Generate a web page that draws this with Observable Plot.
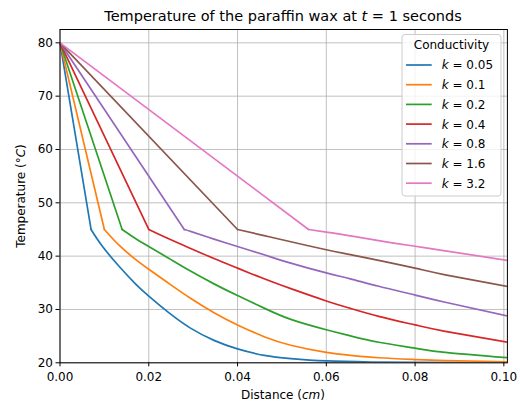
<!DOCTYPE html>
<html>
<head>
<meta charset="utf-8">
<script src="https://cdn.jsdelivr.net/npm/d3@7"></script>
<script src="https://cdn.jsdelivr.net/npm/@observablehq/plot@0.6"></script>
<style>
  html, body { margin: 0; padding: 0; background: white; }
  #chart { width: 520px; height: 405px; }
</style>
</head>
<body>
<div id="chart"></div>
<script>
// ---- data ----
const kLabels = ["0.05", "0.1", "0.2", "0.4", "0.8", "1.6", "3.2"];
const colors = ["#1f77b4", "#ff7f0e", "#2ca02c", "#d62728", "#9467bd", "#8c564b", "#e377c2"];
const xTicks = [0, 0.02, 0.04, 0.06, 0.08, 0.10];
const yTicks = [20, 30, 40, 50, 60, 70, 80];

const dist_k005 = [0, 0.007, 0.0095, 0.0133, 0.017, 0.02, 0.0245, 0.0294, 0.0347, 0.04, 0.046, 0.052, 0.06, 0.07, 0.08, 0.09, 0.1008];
const temp_k005 = [80, 45, 41.9, 38.1, 34.8, 32.5, 29.4, 26.5, 24.2, 22.6, 21.4, 20.8, 20.35, 20.15, 20.07, 20.03, 20.01];

const dist_k01 = [0, 0.01, 0.0133, 0.017, 0.02, 0.0245, 0.0294, 0.0347, 0.04, 0.046, 0.052, 0.06, 0.0654, 0.0718, 0.08, 0.0868, 0.1008];
const temp_k01 = [80, 45, 42.05, 39.4, 37.55, 34.9, 32.1, 29.4, 27.1, 24.9, 23.3, 21.95, 21.4, 20.95, 20.6, 20.4, 20.2];

const dist_k02 = [0, 0.014, 0.017, 0.02, 0.0245, 0.0294, 0.0347, 0.04, 0.046, 0.052, 0.06, 0.0654, 0.0718, 0.08, 0.0868, 0.1008];
const temp_k02 = [80, 45, 43.3, 41.8, 39.6, 37.2, 34.8, 32.6, 30.25, 28.15, 26.2, 25.05, 23.85, 22.75, 21.95, 20.95];

const dist_k04 = [0, 0.02, 0.0245, 0.0294, 0.0347, 0.04, 0.046, 0.052, 0.06, 0.0654, 0.0718, 0.08, 0.0868, 0.1008];
const temp_k04 = [80, 45, 43.25, 41.45, 39.55, 37.75, 35.75, 33.9, 31.6, 30.2, 28.7, 27.1, 25.9, 23.85];

const dist_k08 = [0, 0.028, 0.0294, 0.0347, 0.04, 0.046, 0.052, 0.06, 0.0654, 0.0718, 0.08, 0.0868, 0.1008];
const temp_k08 = [80, 45, 44.65, 43.2, 41.8, 40.25, 38.7, 36.85, 35.75, 34.35, 32.7, 31.35, 28.8];

const dist_k16 = [0, 0.04, 0.046, 0.052, 0.06, 0.0654, 0.0718, 0.08, 0.0868, 0.1008];
const temp_k16 = [80, 45, 43.85, 42.7, 41.2, 40.3, 39.2, 37.75, 36.5, 34.3];

const dist_k32 = [0, 0.056, 0.06, 0.0654, 0.0718, 0.08, 0.0868, 0.1008];
const temp_k32 = [80, 45, 44.5, 43.8, 42.9, 41.85, 41.0, 39.2];

const distances = [dist_k005, dist_k01, dist_k02, dist_k04, dist_k08, dist_k16, dist_k32];
const temps = [temp_k005, temp_k01, temp_k02, temp_k04, temp_k08, temp_k16, temp_k32];

// ---- build tables: linear part (start -> knee) and curved part (knee -> end) ----
const straightRows = [];
const curvedRows = [];
kLabels.forEach((k, si) => {
  distances[si].forEach((xv, i) => {
    const yv = temps[si][i];
    if (i <= 1) straightRows.push({series: k, x: xv, y: yv});
    if (i >= 1) curvedRows.push({series: k, x: xv, y: yv});
  });
});

const W = 520, H = 405;
const svg = Plot.plot({
  width: W, height: H,
  marginLeft: 59.5, marginRight: 13.1, marginTop: 29, marginBottom: 42.7,
  style: {fontFamily: "DejaVu Sans", fontSize: "12px", background: "white", color: "black"},
  x: {domain: [0, 0.1008], label: null},
  y: {domain: [20, 82.5], label: null},
  color: {domain: kLabels, range: colors},
  marks: [
    Plot.gridX(xTicks, {stroke: "#b0b0b0", strokeOpacity: 1, strokeWidth: 0.8}),
    Plot.gridY(yTicks, {stroke: "#b0b0b0", strokeOpacity: 1, strokeWidth: 0.8}),
    Plot.line(straightRows, {x: "x", y: "y", z: "series", stroke: "series", strokeWidth: 1.7, clip: true}),
    Plot.line(curvedRows, {x: "x", y: "y", z: "series", stroke: "series", strokeWidth: 1.7, curve: "natural", clip: true}),
    Plot.frame({stroke: "black", strokeWidth: 1}),
    Plot.axisX(xTicks, {tickSize: 4, tickPadding: 6, tickFormat: d3.format(".2f"), label: null, fontSize: 12, stroke: "black", strokeWidth: 1}),
    Plot.axisY(yTicks, {tickSize: 4, tickPadding: 3, label: null, fontSize: 12, stroke: "black", strokeWidth: 1})
  ]
});
document.getElementById("chart").appendChild(svg);

// ---- text overlays: title, axis labels, legend ----
const s = d3.select(svg);
const ff = "DejaVu Sans";

const title = s.append("text").attr("x", 283).attr("y", 21).attr("text-anchor", "middle")
  .attr("font-family", ff).attr("font-size", 14.5).attr("fill", "black");
title.append("tspan").text("Temperature of the paraffin wax at ");
title.append("tspan").attr("font-style", "italic").text("t");
title.append("tspan").text(" = 1 seconds");

const xl = s.append("text").attr("x", 283).attr("y", 399).attr("text-anchor", "middle")
  .attr("font-family", ff).attr("font-size", 12).attr("fill", "black");
xl.append("tspan").text("Distance (");
xl.append("tspan").attr("font-style", "italic").text("cm");
xl.append("tspan").text(")");

const yl = s.append("text").attr("transform", "translate(24.5,196) rotate(-90)").attr("text-anchor", "middle")
  .attr("font-family", ff).attr("font-size", 12).attr("fill", "black");
yl.append("tspan").text("Temperature (°");
yl.append("tspan").attr("font-style", "italic").text("C");
yl.append("tspan").text(")");

const lg = s.append("g").attr("text-anchor", "start");
lg.append("rect").attr("x", 402).attr("y", 34.5).attr("width", 99).attr("height", 161.5).attr("rx", 3)
  .attr("fill", "white").attr("fill-opacity", 0.8).attr("stroke", "#cccccc").attr("stroke-width", 1);
lg.append("text").attr("x", 451.5).attr("y", 49.3).attr("text-anchor", "middle")
  .attr("font-family", ff).attr("font-size", 12).attr("fill", "black").text("Conductivity");
kLabels.forEach((k, i) => {
  const yy = 65 + 19.7 * i;
  lg.append("line").attr("x1", 406).attr("x2", 431.7).attr("y1", yy).attr("y2", yy)
    .attr("stroke", colors[i]).attr("stroke-width", 1.7);
  const t = lg.append("text").attr("x", 441.7).attr("y", yy + 4.4).attr("text-anchor", "start")
    .attr("font-family", ff).attr("font-size", 12).attr("fill", "black");
  t.append("tspan").attr("font-style", "italic").text("k");
  t.append("tspan").text(" = " + k);
});
</script>
</body>
</html>
